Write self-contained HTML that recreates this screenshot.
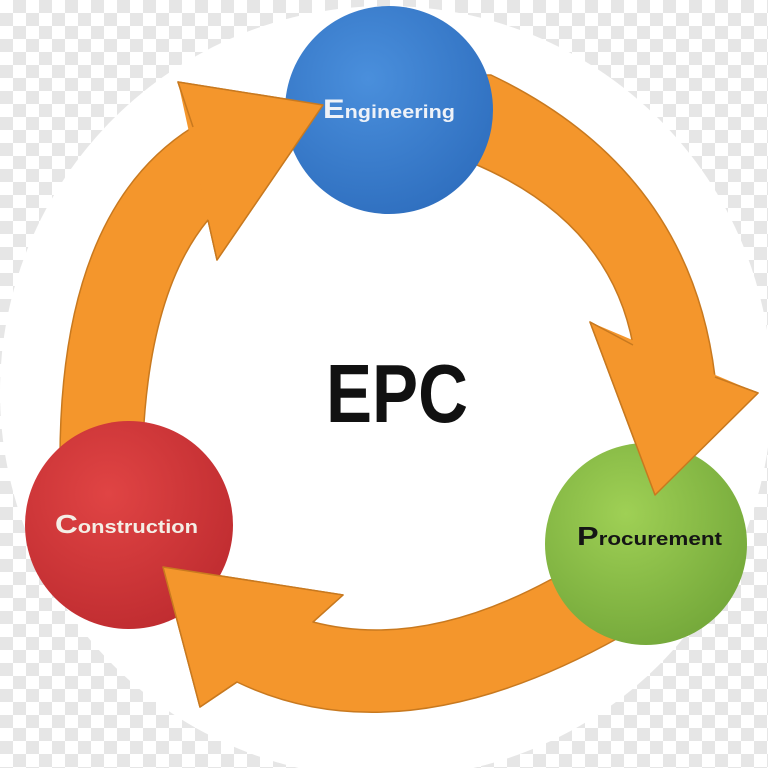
<!DOCTYPE html>
<html><head><meta charset="utf-8"><style>
html,body{margin:0;padding:0;width:768px;height:768px;overflow:hidden;
background-color:#fff;
background-image:linear-gradient(45deg,#e6e6e6 25%,transparent 25%,transparent 75%,#e6e6e6 75%),linear-gradient(45deg,#e6e6e6 25%,transparent 25%,transparent 75%,#e6e6e6 75%);
background-size:26px 26px;background-position:0 0,13px 13px;}
svg{position:absolute;left:0;top:0}
</style></head><body>
<svg width="768" height="768" viewBox="0 0 768 768" xmlns="http://www.w3.org/2000/svg">
<defs>
<radialGradient id="gb" cx="40%" cy="35%" r="70%"><stop offset="0" stop-color="#4a8fdc"/><stop offset="1" stop-color="#2f6fbf"/></radialGradient>
<radialGradient id="gg" cx="40%" cy="35%" r="70%"><stop offset="0" stop-color="#9fd055"/><stop offset="1" stop-color="#74a83a"/></radialGradient>
<radialGradient id="gr" cx="40%" cy="35%" r="70%"><stop offset="0" stop-color="#e04444"/><stop offset="1" stop-color="#bf2c30"/></radialGradient>
</defs>
<circle cx="386" cy="392" r="386" fill="#fff"/>
<g fill="#f4962c" stroke="#c8791f" stroke-width="1.5" stroke-linejoin="round">
<path d="M60,460 Q60,210 193,127 L178,82 L323,105 L217,260 L208,220 Q150,290 143,440 Z"/>
<path d="M470,75 L491,75 Q690,170 715,377 L758,393 L655,495 L590,322 L633,345 Q610,220 470,162 Z"/>
<path d="M620,560 L550,580 Q420,650 313,622 L343,595 L163,567 L200,707 L237,682 Q400,760 620,637 Z"/>
</g>
<circle cx="389" cy="110" r="104" fill="url(#gb)"/>
<circle cx="646" cy="544" r="101" fill="url(#gg)"/>
<circle cx="129" cy="525" r="104" fill="url(#gr)"/>
<!-- arrow heads over circles -->
<g fill="#f4962c">
<polygon points="178,82 323,105 217,260"/>
<polygon points="590,322 758,393 655,495"/>
<polygon points="343,595 163,567 200,707"/>
</g>
<g fill="none" stroke="#c8791f" stroke-width="1.5" stroke-linejoin="round">
<polyline points="193,127 178,82 323,105 217,260 208,220"/>
<polyline points="633,345 590,322 655,495 758,393 715,377"/>
<polyline points="313,622 343,595 163,567 200,707 237,682"/>
</g>
<text x="397" y="422" font-family="Liberation Sans, sans-serif" font-weight="bold" font-size="83" text-anchor="middle" textLength="142" lengthAdjust="spacingAndGlyphs" fill="#111">EPC</text>
<text x="323" y="118" font-family="Liberation Sans, sans-serif" font-weight="bold" fill="#eef2f8" textLength="132" lengthAdjust="spacingAndGlyphs"><tspan font-size="27">E</tspan><tspan font-size="18">ngineering</tspan></text>
<text x="577" y="545" font-family="Liberation Sans, sans-serif" font-weight="bold" fill="#151515" textLength="145" lengthAdjust="spacingAndGlyphs"><tspan font-size="26">P</tspan><tspan font-size="18">rocurement</tspan></text>
<text x="55" y="533" font-family="Liberation Sans, sans-serif" font-weight="bold" fill="#f4eee6" textLength="143" lengthAdjust="spacingAndGlyphs"><tspan font-size="26">C</tspan><tspan font-size="18">onstruction</tspan></text>
</svg>
</body></html>
